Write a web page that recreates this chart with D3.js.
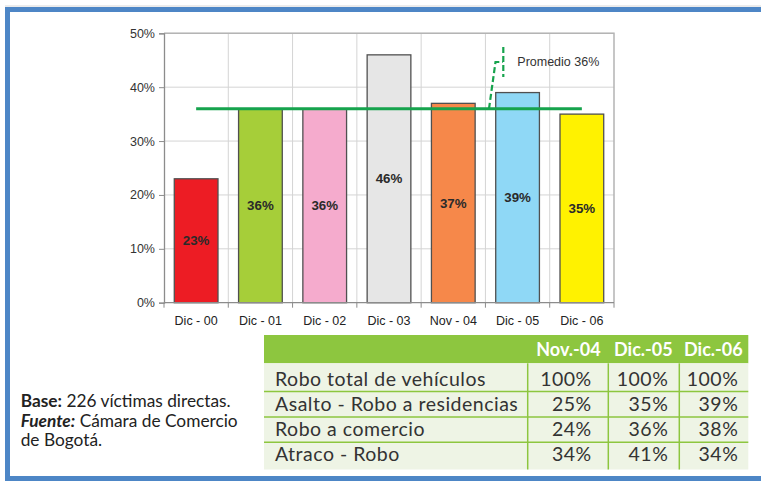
<!DOCTYPE html>
<html>
<head>
<meta charset="utf-8">
<script src="https://cdn.jsdelivr.net/npm/d3@7"></script>
<style>
  html, body { margin: 0; padding: 0; background: #fff; }
  svg { display: block; }
</style>
</head>
<body>
<svg id="chart" width="761" height="486"></svg>
<script>
// Bar chart data: share of victims per period
const categories = ["Dic - 00", "Dic - 01", "Dic - 02", "Dic - 03", "Nov - 04", "Dic - 05", "Dic - 06"];
const values = [23, 36, 36, 46, 37, 39, 35];
const barColors = ["#ed1c24", "#a6ce39", "#f5abcd", "#e6e6e6", "#f6884a", "#8fd8f6", "#fff200"];
const yTicks = [0, 10, 20, 30, 40, 50];
const promedio = 36;
const promedioLabel = "Promedio 36%";

// Table data
const tableCols = ["Nov.-04", "Dic.-05", "Dic.-06"];
const tableRows = ["Robo total de vehículos", "Asalto - Robo a residencias", "Robo a comercio", "Atraco - Robo"];
const tableValues = [
  [100, 100, 100],
  [25, 35, 39],
  [24, 36, 38],
  [34, 41, 34]
];

const svg = d3.select("#chart");
const chartFont = "'Liberation Sans', Arial, sans-serif";
const textFont = "Lato, 'Open Sans', sans-serif";

// Frame
const frameBlue = "#4d86c6";
svg.append("line").attr("x1", 5).attr("x2", 761).attr("y1", 6).attr("y2", 6)
  .attr("stroke", "#d8d8d8").attr("stroke-width", 1);
svg.append("rect").attr("x", 5).attr("y", 7).attr("width", 756).attr("height", 5).attr("fill", frameBlue);
svg.append("rect").attr("x", 5).attr("y", 7).attr("width", 5).attr("height", 474).attr("fill", frameBlue);
svg.append("rect").attr("x", 5).attr("y", 476).attr("width", 756).attr("height", 5).attr("fill", frameBlue);

// Scales
const plot = { left: 164, right: 614, top: 33.3, bottom: 302.7 };
const x = d3.scaleBand().domain(categories).range([plot.left, plot.right])
  .paddingInner(0.32).paddingOuter(0.16);
const y = d3.scaleLinear().domain([0, 50]).range([plot.bottom, plot.top]);
const step = x.step();

const g = svg.append("g");

// Gridlines
g.selectAll(".hgrid").data(yTicks.slice(1)).join("line")
  .attr("x1", plot.left).attr("x2", plot.right)
  .attr("y1", d => y(d)).attr("y2", d => y(d))
  .attr("stroke", "#d4d4d4").attr("stroke-width", 1);
g.selectAll(".vgrid").data(d3.range(1, categories.length)).join("line")
  .attr("x1", i => plot.left + i * step).attr("x2", i => plot.left + i * step)
  .attr("y1", plot.top).attr("y2", plot.bottom)
  .attr("stroke", "#d4d4d4").attr("stroke-width", 1);

// Plot border (top and right)
g.append("path")
  .attr("d", `M${plot.left},${plot.top}H${plot.right}V${plot.bottom}`)
  .attr("fill", "none").attr("stroke", "#b4b4b4").attr("stroke-width", 1.5);

// Bars
g.selectAll(".bar").data(values).join("rect")
  .attr("x", (d, i) => x(categories[i]))
  .attr("y", d => y(d))
  .attr("width", x.bandwidth())
  .attr("height", d => y(0) - y(d))
  .attr("fill", (d, i) => barColors[i])
  .attr("stroke", "#505050").attr("stroke-width", 1.3);

// Value labels in the middle of each bar
g.selectAll(".val").data(values).join("text")
  .attr("x", (d, i) => x(categories[i]) + x.bandwidth() / 2)
  .attr("y", d => (y(d) + y(0)) / 2)
  .attr("dy", "0.35em")
  .attr("text-anchor", "middle")
  .attr("font-family", chartFont).attr("font-weight", "bold")
  .attr("font-size", 13.3).attr("fill", "#2a2a2a")
  .text(d => d + "%");

// Y axis
const yAxis = d3.axisLeft(y).tickValues(yTicks).tickFormat(d => d + "%").tickSize(5).tickPadding(4);
const ya = svg.append("g").attr("transform", `translate(${plot.left},0)`).call(yAxis);
ya.select(".domain").attr("stroke", "#8c8c8c").attr("stroke-width", 1.3);
ya.selectAll(".tick line").attr("stroke", "#8c8c8c");
ya.selectAll(".tick text").attr("font-family", chartFont).attr("font-size", 12.5).attr("fill", "#333");

// X axis with ticks at category boundaries
const xa = svg.append("g").attr("transform", `translate(0,${plot.bottom})`);
xa.append("line").attr("x1", plot.left).attr("x2", plot.right)
  .attr("stroke", "#8c8c8c").attr("stroke-width", 1.3);
xa.selectAll(".xt").data(d3.range(0, categories.length + 1)).join("line")
  .attr("x1", i => plot.left + i * step).attr("x2", i => plot.left + i * step)
  .attr("y1", 0).attr("y2", 5).attr("stroke", "#8c8c8c");
xa.selectAll(".xl").data(categories).join("text")
  .attr("x", d => x(d) + x.bandwidth() / 2)
  .attr("y", 22)
  .attr("text-anchor", "middle")
  .attr("font-family", chartFont).attr("font-size", 12.5).attr("fill", "#222")
  .text(d => d);

// Average line
const avgGreen = "#16a34d";
g.append("line")
  .attr("x1", x(categories[0]) + x.bandwidth() / 2)
  .attr("x2", x(categories[categories.length - 1]) + x.bandwidth() / 2)
  .attr("y1", y(promedio)).attr("y2", y(promedio))
  .attr("stroke", avgGreen).attr("stroke-width", 3);

// Callout leader and label
g.append("path")
  .attr("d", `M489,${y(promedio)} L495.5,62 L503,62`)
  .attr("fill", "none").attr("stroke", avgGreen).attr("stroke-width", 2.2)
  .attr("stroke-dasharray", "6,3");
g.append("path")
  .attr("d", "M503.3,47 V77")
  .attr("fill", "none").attr("stroke", avgGreen).attr("stroke-width", 2.2)
  .attr("stroke-dasharray", "6,3");
g.append("text")
  .attr("x", 517.3).attr("y", 65.5)
  .attr("font-family", chartFont).attr("font-size", 12.5).attr("fill", "#333")
  .text(promedioLabel);

// Table
const tbl = svg.append("g");
const tLeft = 264, tRight = 748.3, headTop = 335, headBottom = 363.3;
const rowH = 25.3;
const colSep = [527.7, 608.3, 679.3];
const colRight = [591.7, 668.3, 738.3];
const headRight = [600.7, 672.7, 742.7];
const tableGreen = "#8dc63f";

tbl.append("rect").attr("x", tLeft).attr("y", headTop)
  .attr("width", tRight - tLeft).attr("height", headBottom - headTop).attr("fill", tableGreen);
tbl.append("rect").attr("x", tLeft).attr("y", headBottom)
  .attr("width", tRight - tLeft).attr("height", rowH * tableRows.length + 5).attr("fill", "#eef4e5");

tbl.selectAll(".hd").data(tableCols).join("text")
  .attr("x", (d, i) => headRight[i]).attr("y", 356)
  .attr("text-anchor", "end")
  .attr("font-family", textFont).attr("font-weight", "bold").attr("font-size", 18)
  .attr("fill", "#fff").text(d => d);

// Row separators
tbl.selectAll(".rs").data(d3.range(1, tableRows.length)).join("line")
  .attr("x1", tLeft).attr("x2", tRight)
  .attr("y1", i => headBottom + 3 + i * rowH).attr("y2", i => headBottom + 3 + i * rowH)
  .attr("stroke", tableGreen).attr("stroke-width", 1.5);
tbl.selectAll(".cs").data(colSep).join("line")
  .attr("x1", d => d).attr("x2", d => d)
  .attr("y1", headBottom).attr("y2", headBottom + rowH * tableRows.length + 5)
  .attr("stroke", tableGreen).attr("stroke-width", 1.5);

tbl.selectAll(".rl").data(tableRows).join("text")
  .attr("x", 275).attr("y", (d, i) => 385.5 + i * rowH)
  .attr("font-family", textFont).attr("font-size", 19.5).attr("letter-spacing", 0.5)
  .attr("fill", "#333")
  .text(d => d);

tableValues.forEach((row, r) => {
  tbl.selectAll(".v" + r).data(row).join("text")
    .attr("x", (d, i) => colRight[i]).attr("y", 385.5 + r * rowH)
    .attr("text-anchor", "end")
    .attr("font-family", textFont).attr("font-size", 19.5).attr("letter-spacing", 0.5)
    .attr("fill", "#333")
    .text(d => d + "%");
});

// Footnote
const note = svg.append("text").attr("font-family", textFont).attr("font-size", 17.3).attr("fill", "#222");
const l1 = note.append("tspan").attr("x", 20.7).attr("y", 407.3);
l1.append("tspan").attr("font-weight", "bold").text("Base:");
l1.append("tspan").text(" 226 víctimas directas.");
const l2 = note.append("tspan").attr("x", 20.7).attr("y", 426.7);
l2.append("tspan").attr("font-weight", "bold").attr("font-style", "italic").text("Fuente:");
l2.append("tspan").text(" Cámara de Comercio");
note.append("tspan").attr("x", 20.7).attr("y", 446).text("de Bogotá.");
</script>
</body>
</html>
